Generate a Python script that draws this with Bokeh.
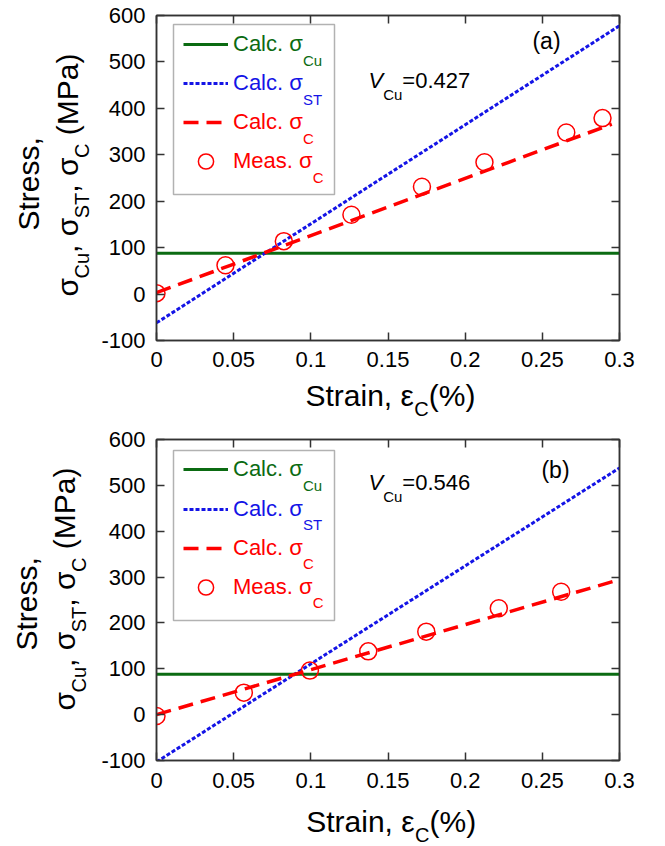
from math import pi
from bokeh.plotting import figure
from bokeh.models import (Range1d, LinearAxis, FixedTicker, NumeralTickFormatter, Label,
                          Legend, LegendItem, BoxAnnotation)
from bokeh.layouts import column, row
from bokeh.embed import file_html
from bokeh.resources import INLINE

# ---------------- data ----------------
x_ticks = [0, 0.05, 0.1, 0.15, 0.2, 0.25, 0.3]
y_ticks = [-100, 0, 100, 200, 300, 400, 500, 600]

# panel (a)  V_Cu = 0.427
a_cu_strain = [0.0, 0.3]
a_cu_stress = [88, 88]
a_st_strain = [0.0, 0.3]
a_st_stress = [-62, 578]
a_c_strain = [0.0, 0.295]
a_c_stress = [3, 366]
a_meas_strain = [0.0, 0.0447, 0.0825, 0.1263, 0.172, 0.2125, 0.2655, 0.289]
a_meas_stress = [2, 62, 114, 171, 231, 284, 348, 379]

# panel (b)  V_Cu = 0.546
b_cu_strain = [0.0, 0.3]
b_cu_stress = [88, 88]
b_st_strain = [0.0, 0.3]
b_st_stress = [-103, 538]
b_c_strain = [0.0, 0.2965]
b_c_stress = [0, 291]
b_meas_strain = [0.0, 0.0566, 0.0994, 0.1372, 0.1748, 0.2218, 0.2622]
b_meas_stress = [-3, 48, 96, 138, 181, 232, 268]

panel_tags = ["(a)", "(b)"]
vcu_values = ["=0.427", "=0.546"]
legend_main = ["Calc. σ", "Calc. σ", "Calc. σ", "Meas. σ"]
legend_sub = ["Cu", "ST", "C", "C"]

FONT = "Liberation Sans"
GREEN = "#0b6b12"
BLUE = "#1414e6"
RED = "#ff0000"
AXC = "#333333"

W = {' ': .278, ',': .278, '.': .278, '(': .333, ')': .333, '%': .889, '=': .584,
     'C': .722, 'M': .833, 'P': .667, 'S': .667, 'T': .611, 'V': .667,
     'a': .556, 'b': .556, 'c': .5, 'e': .556, 'i': .222, 'l': .222, 'n': .556,
     'r': .333, 's': .5, 't': .278, 'u': .556, 'σ': .60, 'ε': .46}
for d in "0123456789":
    W[d] = .556

YT_W = 94          # width of the y-title strip
ML = 62            # left border of the plot figure
FL = YT_W + ML     # page x of the frame's left edge
MB = 38            # bottom border of the plot figure
MR = 46
K = 0.35           # baseline correction (fraction of the font size)


def tw(s, size):
    return sum(W.get(ch, .556) for ch in s) * size


def _split(text, size):
    stripped = text.lstrip(" ")
    return stripped, tw(" " * (len(text) - len(stripped)), size)


def runs_h(p, x, y, runs, color):
    """x, y: screen position of the alphabetic baseline start."""
    for text, size, drop, style in runs:
        text, lead = _split(text, size)
        x += lead
        p.add_layout(Label(x=x, y=y - drop + K * size, x_units="screen", y_units="screen",
                           text=text, text_font=FONT, text_font_size=f"{size}px",
                           text_font_style=style, text_color=color,
                           text_baseline="alphabetic", text_align="left"))
        x += tw(text, size)


def runs_v(p, x, y, runs, color):
    for text, size, drop, style in runs:
        text, lead = _split(text, size)
        y += lead
        p.add_layout(Label(x=x + drop - K * size, y=y, x_units="screen", y_units="screen",
                           text=text, angle=pi / 2, text_font=FONT,
                           text_font_size=f"{size}px", text_font_style=style,
                           text_color=color, text_baseline="alphabetic", text_align="left"))
        y += tw(text, size)


def blank_fig(w, h, bt=0, bb=0):
    f = figure(width=w, height=h, min_border=0, min_border_top=bt, min_border_bottom=bb,
               x_axis_type=None, y_axis_type=None, x_range=Range1d(0, 1),
               y_range=Range1d(0, 1), output_backend="svg", toolbar_location=None)
    f.outline_line_color = None
    f.xgrid.visible = False
    f.ygrid.visible = False
    f.background_fill_color = "white"
    f.border_fill_color = "white"
    return f


def make_panel(idx, cu_x, cu_y, st_x, st_y, c_x, c_y, m_x, m_y, L):
    FT = L["top"]                      # page y of figure top
    FB = FT + L["bt"] + L["fh"]        # page y of frame bottom
    p = figure(frame_width=463, frame_height=L["fh"], x_range=Range1d(0, 0.3),
               y_range=Range1d(-100, 600), output_backend="svg", toolbar_location=None,
               min_border_left=ML, min_border_right=MR, min_border_top=L["bt"],
               min_border_bottom=MB, x_axis_type=None, y_axis_type=None)
    p.outline_line_color = AXC
    p.outline_line_width = 1.5
    p.xgrid.visible = False
    p.ygrid.visible = False
    p.background_fill_color = "white"
    p.border_fill_color = "white"

    def style_axis(ax, labels, standoff):
        ax.axis_line_color = AXC
        ax.axis_line_width = 1.5
        ax.major_tick_line_color = AXC
        ax.major_tick_line_width = 1.5
        ax.major_tick_in = 8
        ax.major_tick_out = 0
        ax.minor_tick_line_color = None
        if labels:
            ax.major_label_text_font = FONT
            ax.major_label_text_font_size = "22px"
            ax.major_label_text_color = "black"
            ax.major_label_standoff = standoff
        else:
            ax.major_label_text_font_size = "0px"
            ax.major_label_text_color = None
            ax.major_label_standoff = 0

    xb = LinearAxis(ticker=FixedTicker(ticks=x_ticks), formatter=NumeralTickFormatter(format="0.[00]"))
    style_axis(xb, True, L["xso"])
    p.add_layout(xb, "below")
    xt = LinearAxis(ticker=FixedTicker(ticks=x_ticks))
    style_axis(xt, False, 0)
    p.add_layout(xt, "above")
    yl = LinearAxis(ticker=FixedTicker(ticks=y_ticks), formatter=NumeralTickFormatter(format="0"))
    style_axis(yl, True, 11)
    p.add_layout(yl, "left")
    yr = LinearAxis(ticker=FixedTicker(ticks=y_ticks))
    style_axis(yr, False, 0)
    p.add_layout(yr, "right")

    r_cu = p.line(cu_x, cu_y, line_color=GREEN, line_width=3)
    r_st = p.line(st_x, st_y, line_color=BLUE, line_width=3, line_dash="4 2")
    r_c = p.line(c_x, c_y, line_color=RED, line_width=3.5, line_dash="15 8")
    r_m = p.scatter(m_x, m_y, marker="circle", size=17, fill_color=None, line_color=RED,
                    line_width=1.5)

    # legend: one entry per Legend so that each label keeps its own colour
    colors = [GREEN, BLUE, RED, RED]
    rends = [r_cu, r_st, r_c, r_m]
    for i in range(4):
        rc = L["leg_row0"] + i * L["leg_pitch"]          # page y of the row centre
        leg = Legend(items=[LegendItem(label=legend_main[i], renderers=[rends[i]])],
                     location=(183 - FL, FB - rc - 19), glyph_width=45, glyph_height=38,
                     label_height=38, label_standoff=5, spacing=0, padding=0, margin=0,
                     border_line_color=None, background_fill_alpha=0,
                     label_text_font=FONT, label_text_font_size="22px",
                     label_text_color=colors[i])
        p.add_layout(leg)
        runs_h(p, 233 - FL + tw(legend_main[i], 22), FB - rc - 20.5,
               [(legend_sub[i], 15, 0, "normal")], colors[i])
    p.add_layout(BoxAnnotation(left=173 - FL, right=334 - FL, top=FB - L["box"][0],
                               bottom=FB - L["box"][1], left_units="screen", right_units="screen",
                               top_units="screen", bottom_units="screen", fill_alpha=0,
                               fill_color=None, line_color="black", line_width=1.5))

    # panel tag
    p.add_layout(Label(x=L["tag"][0] - FL, y=FB - L["tag"][1], x_units="screen", y_units="screen",
                       text=panel_tags[idx], text_font=FONT, text_font_size="23px",
                       text_align="center", text_baseline="middle", text_color="black"))
    # V_Cu
    runs_h(p, 368 - FL, FB - L["vb"], [("V", 22, 0, "italic"), ("Cu", 15, 11, "normal"),
                                       (vcu_values[idx], 22, 0, "normal")], "black")

    fig_h = L["bt"] + L["fh"] + MB
    # y title strip (left of the plot); its frame spans the same rows as the plot frame
    yt = blank_fig(YT_W, fig_h, bt=L["bt"], bb=MB)
    runs_v(yt, L["y1"][0], FB - L["y1"][1], [("Stress,", 30, 0, "normal")], "black")
    runs_v(yt, L["y2"][0], FB - L["y2"][1],
           [("σ", 30, 0, "normal"), ("Cu", 20, 11, "normal"), (", σ", 30, 0, "normal"),
            ("ST", 20, 11, "normal"), (", σ", 30, 0, "normal"), ("C", 20, 11, "normal"),
            (" (MPa)", 30, 0, "normal")], "black")

    # x title strip (below the plot)
    xt_h = L["xth"]
    xtf = blank_fig(YT_W + ML + 463 + MR, xt_h)
    XB = FT + fig_h + xt_h
    runs_h(xtf, L["xt"][0], XB - L["xt"][1], [("Strain, ε", 30, 0, "normal"),
                                              ("C", 20, 10, "normal"),
                                              ("(%)", 30, 0, "normal")], "black")
    return column(row(yt, p, spacing=0), xtf, spacing=0)


LA = dict(top=0, bt=15, fh=325, xso=11, leg_row0=44.3, leg_pitch=39, box=(24, 194),
          tag=(546, 40), vb=88, xt=(305, 405), y1=(38, 230), y2=(77, 296), xth=45)
LB = dict(top=423, bt=16, fh=321, xso=12, leg_row0=469.3, leg_pitch=39.3, box=(450, 620),
          tag=(555, 469), vb=490, xt=(305.7, 831), y1=(36, 650), y2=(74, 710), xth=47)

pa = make_panel(0, a_cu_strain, a_cu_stress, a_st_strain, a_st_stress, a_c_strain, a_c_stress,
                a_meas_strain, a_meas_stress, LA)
pb = make_panel(1, b_cu_strain, b_cu_stress, b_st_strain, b_st_stress, b_c_strain, b_c_stress,
                b_meas_strain, b_meas_stress, LB)

layout = column(pa, pb, spacing=0)
open("out.html", "w").write(file_html(layout, INLINE))
